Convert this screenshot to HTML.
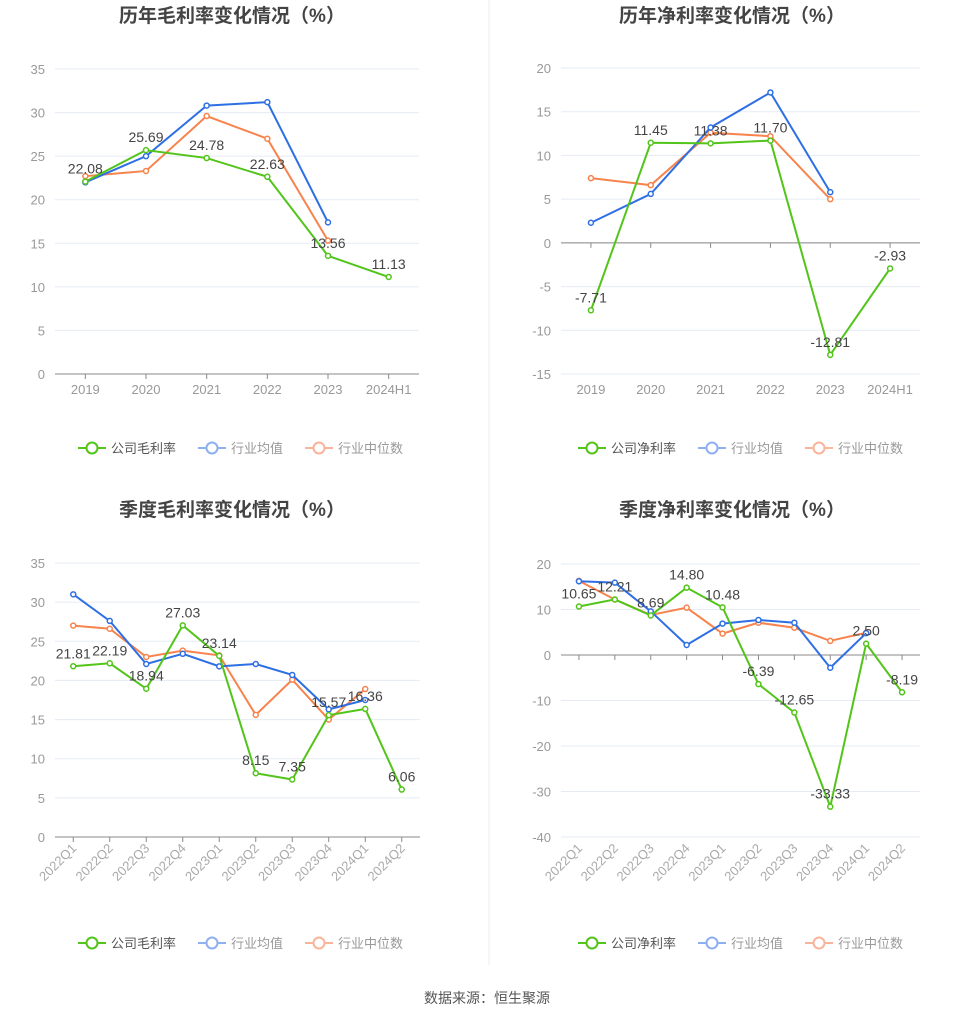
<!DOCTYPE html>
<html><head><meta charset="utf-8">
<style>
html,body{margin:0;padding:0;background:#fff;}
body{width:975px;height:1020px;position:relative;overflow:hidden;font-family:"Liberation Sans","Noto Sans CJK SC",sans-serif;}
svg{position:absolute;left:0;top:0;}
</style></head>
<body>
<svg id="root" width="975" height="1020"></svg>
<script>
// ---- data ----
const annualCats = ["2019","2020","2021","2022","2023","2024H1"];
const quarterCats = ["2022Q1","2022Q2","2022Q3","2022Q4","2023Q1","2023Q2","2023Q3","2023Q4","2024Q1","2024Q2"];
const grossCompany = [22.08,25.69,24.78,22.63,13.56,11.13];
const grossAvg = [22.0,25.0,30.8,31.2,17.4];
const grossMedian = [22.7,23.3,29.6,27.0,15.3];
const netCompany = [-7.71,11.45,11.38,11.70,-12.81,-2.93];
const netAvg = [2.3,5.6,13.2,17.2,5.8];
const netMedian = [7.4,6.6,12.6,12.2,5.0];
const qGrossCompany = [21.81,22.19,18.94,27.03,23.14,8.15,7.35,15.57,16.36,6.06];
const qGrossAvg = [31.0,27.6,22.1,23.4,21.8,22.1,20.7,16.3,17.5];
const qGrossMedian = [27.0,26.6,23.0,23.8,23.2,15.6,20.1,15.0,18.9];
const qNetCompany = [10.65,12.21,8.69,14.80,10.48,-6.39,-12.65,-33.33,2.50,-8.19];
const qNetAvg = [16.2,15.9,9.6,2.2,6.9,7.7,7.1,-2.8,4.8];
const qNetMedian = [16.3,12.2,8.8,10.4,4.7,7.1,6.0,3.1,4.9];
const ticksGross = [0,5,10,15,20,25,30,35];
const ticksNet = [-15,-10,-5,0,5,10,15,20];
const ticksQNet = [-40,-30,-20,-10,0,10,20];

const NS="http://www.w3.org/2000/svg";
const root=document.getElementById('root');
function mk(tag,attrs,parent,text){const e=document.createElementNS(NS,tag);for(const k in attrs)e.setAttribute(k,attrs[k]);if(text!==undefined)e.textContent=text;(parent||root).appendChild(e);return e;}
const GREEN="#52c41a",BLUE="#2f6fe4",ORANGE="#f7834d";

function chart(o){
  const g=mk('g',{});
  
  
  const t=mk('text',{x:o.cx,y:o.titleY,'text-anchor':'middle','font-size':19,'font-weight':'bold',fill:'#444'},g,o.title);
  
  
  const ymin=o.ticks[0],ymax=o.ticks[o.ticks.length-1];
  const Y=v=>o.bottom-(v-ymin)/(ymax-ymin)*(o.bottom-o.top);
  const n=o.cats.length;const step=(o.right-o.left)/n;
  const X=i=>o.left+step*(i+0.5);
  o.ticks.forEach(v=>{
    if(v!==0||ymin===0){}
    const gl=mk('line',{x1:o.left,x2:o.right,y1:Y(v),y2:Y(v),stroke:'#e6ebf5','stroke-width':1},g);
    
    
    const tl=mk('text',{x:o.left-10,y:Y(v)+5,'text-anchor':'end','font-size':13,fill:'#999'},g,String(v));
    
    
  });
  const ax=mk('line',{x1:o.left,x2:o.right,y1:Y(0),y2:Y(0),stroke:'#888','stroke-width':1},g);
  
  
  o.cats.forEach((c,i)=>{
    mk('line',{x1:X(i),x2:X(i),y1:Y(0),y2:Y(0)+5,stroke:'#888'},g);
    let lab;
    if(o.rotate){
      const lx=X(i)+4,ly=o.bottom+12;
      lab=mk('text',{x:lx,y:ly,'text-anchor':'end','font-size':13,fill:'#aaa',transform:`rotate(-45 ${lx} ${ly})`},g,c);
    } else {
      lab=mk('text',{x:X(i),y:o.bottom+20,'text-anchor':'middle','font-size':13,fill:'#999'},g,c);
    }
    
    
  });
  const series=[[o.median,ORANGE,'industry-median-line'],[o.avg,BLUE,'industry-average-line'],[o.company,GREEN,'company-line']];
  series.forEach(([arr,col,nm])=>{
    const pts=arr.map((v,i)=>X(i)+','+Y(v)).join(' ');
    const pl=mk('polyline',{points:pts,fill:'none',stroke:col,'stroke-width':2},g);
    
    
    arr.forEach((v,i)=>{
      const c=mk('circle',{cx:X(i),cy:Y(v),r:2.5,fill:'#fff',stroke:col,'stroke-width':1.5},g);
      
      
    });
  });
  o.company.forEach((v,i)=>{
    const l=mk('text',{x:X(i),y:Y(v)-8,'text-anchor':'middle','font-size':14,fill:'#444'},g,v.toFixed(2));
    
    
  });
  // legend
  const items=[[o.legendName,GREEN,'#555'],['行业均值','#8fb0f0','#999'],['行业中位数','#f9b49a','#999']];
  let lx=o.cx-154;
  items.forEach(([name,col,tc])=>{
    const lg=mk('g',{},g);
    
    
    mk('line',{x1:lx,x2:lx+28,y1:o.legendY,y2:o.legendY,stroke:col,'stroke-width':2},lg);
    mk('circle',{cx:lx+14,cy:o.legendY,r:5.5,fill:'#fff',stroke:col,'stroke-width':2},lg);
    mk('text',{x:lx+33,y:o.legendY+5,'font-size':13,fill:tc},lg,name);
    lx+=33+name.length*13+22;
  });
}
chart({name:'annual-gross-margin-chart',title:'历年毛利率变化情况（%）',cx:232,titleY:22,left:55,right:419,top:69,bottom:374,cats:annualCats,ticks:ticksGross,company:grossCompany,avg:grossAvg,median:grossMedian,legendName:'公司毛利率',legendY:448});
chart({name:'annual-net-margin-chart',title:'历年净利率变化情况（%）',cx:732,titleY:22,left:561,right:920,top:68,bottom:374,cats:annualCats,ticks:ticksNet,company:netCompany,avg:netAvg,median:netMedian,legendName:'公司净利率',legendY:448});
chart({name:'quarterly-gross-margin-chart',title:'季度毛利率变化情况（%）',cx:232,titleY:516,left:55,right:420,top:563,bottom:837,cats:quarterCats,ticks:ticksGross,company:qGrossCompany,avg:qGrossAvg,median:qGrossMedian,legendName:'公司毛利率',legendY:943,rotate:true});
chart({name:'quarterly-net-margin-chart',title:'季度净利率变化情况（%）',cx:732,titleY:516,left:561,right:920,top:564,bottom:837,cats:quarterCats,ticks:ticksQNet,company:qNetCompany,avg:qNetAvg,median:qNetMedian,legendName:'公司净利率',legendY:943,rotate:true});
const dv=mk('line',{x1:489,x2:489,y1:0,y2:965,stroke:'#eee'});


const src=mk('text',{x:487,y:1003,'text-anchor':'middle','font-size':14,fill:'#555'},root,'数据来源：恒生聚源');


</script>
</body></html>
